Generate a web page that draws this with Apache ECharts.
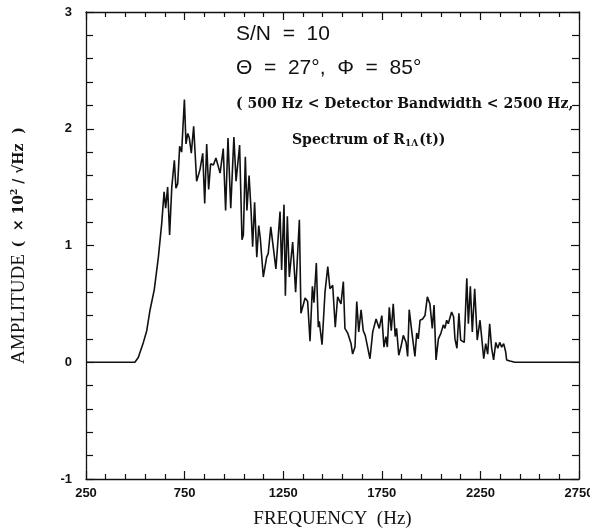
<!DOCTYPE html>
<html>
<head>
<meta charset="utf-8">
<script src="https://cdn.jsdelivr.net/npm/echarts@6/dist/echarts.min.js"></script>
<style>html,body{margin:0;padding:0;background:#fff}#c{width:590px;height:531px}</style>
</head>
<body>
<div id="c"></div>
<script>
const freqs = [250,498,515,541,558,575,596,617,634,646,654,664,674,685,698,706,715,725,735,749,757,766,774,784,796,811,828,842,852,862,872,882,896,909,930,946,958,970,984,1000,1011,1029,1041,1048,1058,1066,1077,1087,1095,1105,1116,1126,1134,1142,1149,1166,1174,1187,1197,1213,1234,1242,1254,1261,1271,1281,1298,1313,1332,1340,1361,1374,1386,1398,1406,1418,1428,1433,1447,1462,1476,1487,1501,1514,1526,1543,1555,1563,1577,1594,1602,1614,1623,1633,1645,1656,1666,1676,1690,1704,1721,1737,1750,1761,1771,1778,1788,1798,1808,1818,1825,1836,1847,1859,1873,1881,1889,1903,1918,1927,1935,1944,1957,1969,1981,1994,2006,2015,2025,2037,2050,2062,2070,2079,2087,2104,2114,2121,2131,2141,2150,2160,2168,2181,2189,2199,2209,2221,2234,2248,2267,2277,2287,2297,2307,2317,2328,2338,2348,2358,2368,2378,2383,2400,2425,2750];
const amps = [0,0,0.04,0.17,0.27,0.45,0.62,0.90,1.19,1.46,1.32,1.50,1.09,1.50,1.73,1.49,1.53,1.85,1.80,2.25,1.87,1.96,1.92,1.79,2.02,1.55,1.65,1.79,1.36,1.87,1.48,1.70,1.69,1.75,1.62,1.83,1.30,1.92,1.32,1.93,1.55,1.86,1.05,1.09,1.76,1.30,1.60,1.30,0.99,1.37,0.90,1.17,1.06,1.07,0.73,0.90,0.93,1.16,1.16,0.80,1.29,0.79,1.35,0.57,1.25,0.73,1.03,0.60,1.22,0.42,0.55,0.52,0.18,0.65,0.51,0.85,0.30,0.35,0.15,0.60,0.82,0.63,0.66,0.30,0.56,0.50,0.69,0.29,0.25,0.16,0.07,0.13,0.52,0.26,0.45,0.27,0.23,0.22,0.03,0.26,0.37,0.29,0.40,0.13,0.22,0.13,0.47,0.27,0.50,0.22,0.29,0.06,0.13,0.23,0.17,0.05,0.45,0.25,0.05,0.25,0.20,0.36,0.37,0.40,0.56,0.50,0.29,0.49,0.02,0.20,0.25,0.32,0.29,0.36,0.33,0.43,0.39,0.20,0.12,0.42,0.19,0.20,0.17,0.72,0.33,0.65,0.26,0.63,0.19,0.36,0.03,0.16,0.07,0.33,0.12,0.02,0.17,0.12,0.17,0.13,0.16,0.09,0.02,0.01,0,0];
const xTicks = {min:250, max:2750, step:500};
const yTicks = {min:-1, max:3, step:1};
const xTitle = 'FREQUENCY  (Hz)';
const annotations = ['S/N  =  10', 'Θ  =  27°,  Φ  =  85°', '( 500 Hz < Detector Bandwidth < 2500 Hz,'];

const chart = echarts.init(document.getElementById('c'), null, {renderer:'canvas'});
const black = '#111';
function xAx(pos, labels){
  return {type:'value', position:pos, min:xTicks.min, max:xTicks.max, interval:xTicks.step,
    axisLine:{show:true, onZero:false, lineStyle:{color:black, width:1.3}},
    axisTick:{show:true, inside:true, length:8, lineStyle:{color:black, width:1.2}},
    minorTick:{show:true, splitNumber:5, length:5, lineStyle:{color:black, width:1.2}},
    splitLine:{show:false},
    axisLabel:{show:labels, margin:8, color:black, fontFamily:'Liberation Sans', fontWeight:'bold', fontSize:13,
      formatter:(v)=>String(v)},
    name: labels ? xTitle : '', nameLocation:'middle', nameGap:31,
    nameTextStyle:{fontFamily:'Liberation Serif', fontSize:19, color:black}
  };
}
function yAx(pos, labels){
  return {type:'value', position:pos, min:yTicks.min, max:yTicks.max, interval:yTicks.step,
    axisLine:{show:true, onZero:false, lineStyle:{color:black, width:1.3}},
    axisTick:{show:true, inside:true, length:8, lineStyle:{color:black, width:1.2}},
    minorTick:{show:true, splitNumber:5, length:7, lineStyle:{color:black, width:1.2}},
    splitLine:{show:false},
    axisLabel:{show:labels, margin:14, color:black, fontFamily:'Liberation Sans', fontWeight:'bold', fontSize:13,
      formatter:(v)=>String(v)},
    name: labels ? '{a|AMPLITUDE}  {b|(  × 10}{s|2}{b| / √Hz  )}' : '', nameLocation:'middle', nameGap:57,
    nameTextStyle:{color:black, rich:{
      a:{fontFamily:'Liberation Serif', fontSize:19, color:black},
      b:{fontFamily:'DejaVu Serif', fontWeight:'bold', fontSize:14, color:black},
      s:{fontFamily:'DejaVu Serif', fontWeight:'bold', fontSize:9, color:black, verticalAlign:'top', padding:[0,0,8,0]}
    }}
  };
}
const data = freqs.map((f,i)=>[f, amps[i]]);
chart.setOption({
  animation:false,
  backgroundColor:'#fff',
  grid:{left:86, right:11, top:12, bottom:52, containLabel:false, outerBoundsMode:'none'},
  xAxis:[xAx('bottom', true), xAx('top', false)],
  yAxis:[yAx('left', true), yAx('right', false)],
  series:[{type:'line', xAxisIndex:0, yAxisIndex:0, data:data, showSymbol:false, symbol:'none',
    lineStyle:{color:black, width:1.6}, silent:true}],
  graphic:[
    {type:'text', left:236, top:24, style:{text:annotations[0], font:'21px "Liberation Sans"', fill:black}},
    {type:'text', left:236, top:58, style:{text:annotations[1], font:'21px "Liberation Sans"', fill:black}},
    {type:'text', left:236, top:97, style:{text:annotations[2], font:'bold 14px "DejaVu Serif"', fill:black}},
    {type:'text', left:292, top:133, style:{
      text:'{m|Spectrum of R}{sub|1Λ}{m|(t))}',
      rich:{m:{font:'bold 14px "DejaVu Serif"', fill:black}, sub:{font:'bold 9px "DejaVu Serif"', fill:black, padding:[7,1,0,0]}}
    }}
  ]
});
</script>
</body>
</html>
